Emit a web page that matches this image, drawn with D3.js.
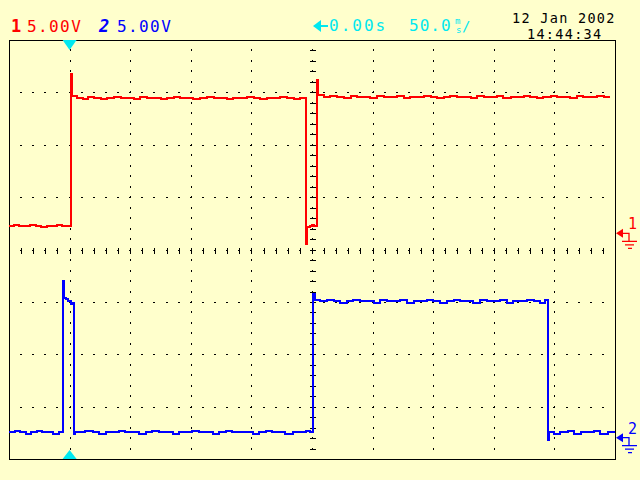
<!DOCTYPE html>
<html><head><meta charset="utf-8">
<script src="https://cdn.jsdelivr.net/npm/d3@7"></script>
<style>html,body{margin:0;padding:0;background:#FFFFCC;} svg{display:block}</style>
</head><body><svg id="c" width="640" height="480"></svg>
<script>
// ---- data ----
const timeTicks = [-50, 0, 50, 100, 150, 200, 250, 300, 350, 400, 450]; // ms, 50 ms/div
const voltTicks = [-20, -15, -10, -5, 0, 5, 10, 15, 20];                // V, 5 V/div
const ch1Offset = 1.55;    // V (ground marker position)
const ch2Offset = -17.95;
const ch1Time = [-50,-46,-42,-37,-33,-28,-24,-19,-15,-10,-6,-2,1.4,1.9,6,11,15,20,26,31,37,42,47,53,58,64,69,75,80,86,91,97,102,108,113,119,124,130,135,141,146,152,157,163,168,174,179,185,190,195,195.6,198,200,202,204.4,205.2,210,215,221,226,232,237,243,248,254,259,265,270,276,281,287,292,298,303,309,314,320,325,331,336,342,347,353,358,364,369,375,380,386,391,397,402,408,413,419,424,430,435,441,446,450];
const ch1Volts = [0.7,0.8,0.7,0.7,0.8,0.7,0.6,0.7,0.7,0.8,0.7,0.7,15.2,13.1,12.9,12.8,13.0,12.9,12.8,12.9,13.0,12.9,12.9,12.8,13.0,12.9,12.9,12.8,12.9,13.0,12.9,12.9,12.8,12.9,13.0,12.9,12.9,12.8,12.9,12.9,13.0,12.9,12.8,12.9,12.9,13.0,12.9,12.8,12.9,-1.0,0.6,0.7,0.8,0.7,14.6,13.2,13.0,13.1,13.0,12.9,13.1,13.0,13.0,12.9,13.1,13.0,13.0,13.1,12.9,13.0,13.0,13.1,13.0,12.9,13.0,13.1,13.0,13.0,12.9,13.1,13.0,13.0,13.1,12.9,13.0,13.0,13.1,13.0,12.9,13.0,13.1,13.0,13.0,12.9,13.1,13.0,13.0,13.1,13.0];
const ch2Time = [-50,-45,-41,-36,-32,-27,-23,-18,-14,-9,-5.2,-4.6,-3,-1,1,2.5,3.9,4.4,8,13,19,24,30,35,41,46,52,57,63,68,74,79,85,90,96,101,107,112,118,123,129,134,140,145,151,156,162,167,173,178,184,189,195,198,201.1,202.3,207,212,218,223,229,234,240,245,251,256,262,267,273,278,284,289,295,300,306,311,317,322,328,333,339,344,350,355,361,366,372,377,383,388,392,395.1,395.8,400,405,411,416,422,427,433,438,444,450];
const ch2Volts = [0.5,0.6,0.5,0.4,0.5,0.6,0.5,0.5,0.4,0.5,15.0,13.3,13.2,13.0,12.8,12.9,0.35,0.5,0.5,0.6,0.5,0.4,0.5,0.5,0.6,0.5,0.5,0.4,0.5,0.6,0.5,0.5,0.4,0.5,0.5,0.6,0.5,0.5,0.4,0.5,0.6,0.5,0.5,0.5,0.4,0.5,0.6,0.5,0.5,0.4,0.5,0.5,0.6,0.5,13.7,13.1,13.0,13.1,13.0,12.9,13.0,13.1,13.0,13.0,12.9,13.1,13.0,13.0,13.1,12.9,13.0,13.0,13.1,13.0,12.9,13.0,13.1,13.0,13.0,12.9,13.1,13.0,13.0,13.1,12.9,13.0,13.0,13.1,13.0,12.9,13.1,-0.2,0.5,0.4,0.5,0.6,0.4,0.5,0.5,0.6,0.4,0.5];
const headerCh = ["1", "5.00V", "2", "5.00V"];
const headerTime = ["0.00s", "50.0"];
const dateLines = ["12 Jan 2002", "14:44:34"];

// ---- drawing ----
const svg = d3.select("#c");
const x = d3.scaleLinear().domain([-50, 450]).range([9, 615]);
const y = d3.scaleLinear().domain([-20, 20]).range([459.2, 40]);
const RED = "#FF0000", BLUE = "#0000FF", CYAN = "#00E8F0";
svg.append("rect").attr("width", 640).attr("height", 480).attr("fill", "#FFFFCC");

const g = svg.append("g").attr("shape-rendering", "crispEdges");
// dotted grid verticals
timeTicks.slice(1, -1).forEach(t => {
  d3.range(-20, 20.01, 1).forEach(v => {
    if (v === -20 || v === 20) return;
    g.append("rect").attr("x", Math.round(x(t))).attr("y", Math.round(y(v)) - 1).attr("width", 1).attr("height", 2).attr("fill", "#000");
  });
});
// dotted grid horizontals
voltTicks.slice(1, -1).forEach(v => {
  d3.range(-50, 450.01, 10).forEach(t => {
    if (t === -50 || t === 450) return;
    g.append("rect").attr("x", Math.round(x(t)) - 1).attr("y", Math.round(y(v))).attr("width", 2).attr("height", 1).attr("fill", "#000");
  });
});
// center axes ticks
const cx = Math.round(x(200)), cy = Math.round(y(0));
d3.range(-20, 20.01, 1).forEach(v => {
  if (v === -20 || v === 20) return;
  g.append("rect").attr("x", cx - 2).attr("y", Math.round(y(v))).attr("width", 6).attr("height", 1).attr("fill", "#000");
});
d3.range(-50, 450.01, 10).forEach(t => {
  if (t === -50 || t === 450) return;
  g.append("rect").attr("x", Math.round(x(t))).attr("y", cy - 2).attr("width", 1).attr("height", 6).attr("fill", "#000");
});
// frame
g.append("rect").attr("x", x(-50) + 0.5).attr("y", y(20) + 0.5).attr("width", x(450) - x(-50)).attr("height", y(-20) - y(20))
  .attr("fill", "none").attr("stroke", "#000").attr("stroke-width", 1);

// traces
const line = d3.line().curve(d3.curveStepAfter);
function trace(ts, vs, off, color) {
  svg.append("path").attr("d", line(ts.map((t, i) => [x(t), y(vs[i] + off)])))
    .attr("fill", "none").attr("stroke", color).attr("stroke-width", 2).attr("shape-rendering", "crispEdges");
}
trace(ch1Time, ch1Volts, ch1Offset, RED);
trace(ch2Time, ch2Volts, ch2Offset, BLUE);

// trigger markers
const tx = x(0);
svg.append("path").attr("d", `M${tx-7},40 L${tx+7},40 L${tx},50 Z`).attr("fill", CYAN);
svg.append("path").attr("d", `M${tx-7},459 L${tx+7},459 L${tx},450 Z`).attr("fill", CYAN);

// channel ground markers
function gnd(off, color, label) {
  const gy = y(off), xr = x(450);
  const m = svg.append("g").attr("fill", color).attr("stroke", color);
  m.append("path").attr("d", `M${xr+1},${gy} L${xr+8},${gy-4.5} L${xr+8},${gy+4.5} Z`).attr("stroke", "none");
  m.append("path").attr("d", `M${xr+8},${gy} H${xr+14} V${gy+8} M${xr+7},${gy+8} H${xr+22} M${xr+10},${gy+11.5} H${xr+19} M${xr+13},${gy+15} H${xr+17}`)
    .attr("fill", "none").attr("stroke-width", 1.3);
  m.append("text").attr("x", xr + 13).attr("y", gy - 4).attr("stroke", "none")
    .attr("font-family", "DejaVu Sans Mono").attr("font-size", 15).text(label);
}
gnd(ch1Offset, RED, "1");
gnd(ch2Offset, BLUE, "2");

// header texts
const hf = "DejaVu Sans Mono";
function txt(xp, yp, s, color, size, extra) {
  const t = svg.append("text").attr("x", xp).attr("y", yp).attr("fill", color)
    .attr("font-family", hf).attr("font-size", size).text(s);
  if (extra) extra(t);
  return t;
}
txt(11, 32, headerCh[0], RED, 17, t => t.attr("font-weight", "bold"));
txt(27, 32, headerCh[1], RED, 16, t => t.attr("letter-spacing", 1.4));
txt(99, 32, headerCh[2], BLUE, 17, t => t.attr("font-weight", "bold").attr("font-style", "italic"));
txt(117, 32, headerCh[3], BLUE, 16, t => t.attr("letter-spacing", 1.4));
// cyan delay arrow
svg.append("path").attr("d", "M313,26 L321,20 L321,32 Z").attr("fill", CYAN);
svg.append("rect").attr("x", 320).attr("y", 25).attr("width", 8).attr("height", 2).attr("fill", CYAN);
txt(329, 31, headerTime[0], CYAN, 16, t => t.attr("letter-spacing", 2));
txt(409, 31, headerTime[1], CYAN, 16, t => t.attr("letter-spacing", 1));
txt(455, 24, "m", CYAN, 9);
txt(456, 33, "s", CYAN, 9);
txt(462, 31, "/", CYAN, 14);
txt(512, 23, dateLines[0], "#000", 13.5, t => t.attr("letter-spacing", 1.3));
txt(527, 39, dateLines[1], "#000", 13.5, t => t.attr("letter-spacing", 1.3));
</script></body></html>
